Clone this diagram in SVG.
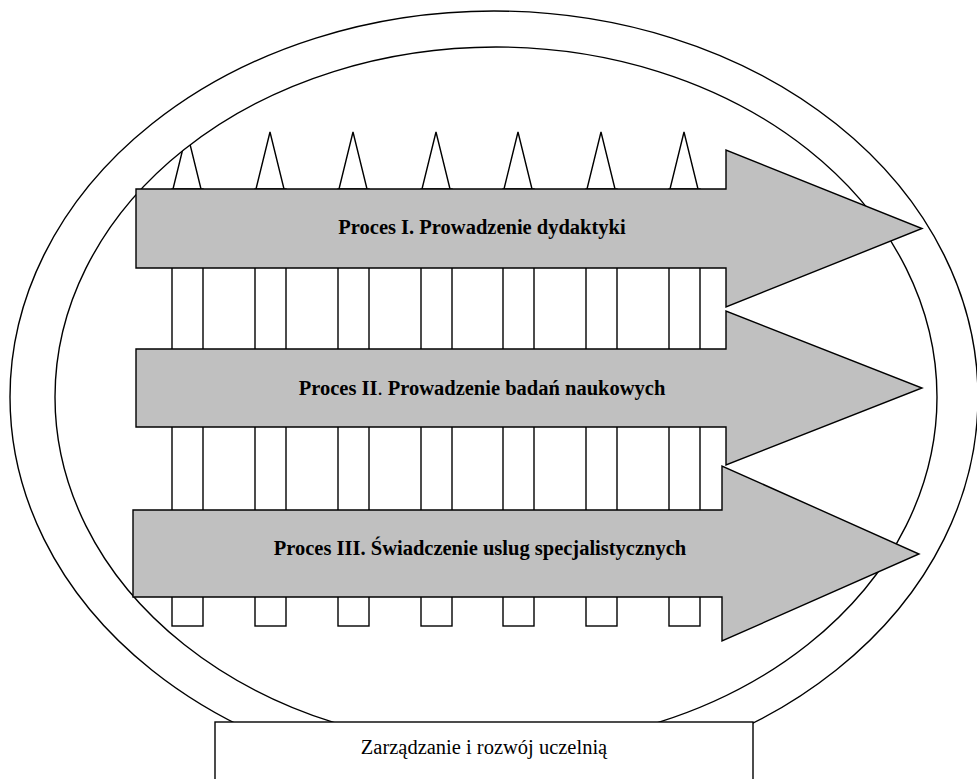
<svg xmlns="http://www.w3.org/2000/svg" width="977" height="779" viewBox="0 0 977 779">
<style>
.ln{fill:none;stroke:#000;stroke-width:1.4}
.arr{fill:#c0c0c0;stroke:#000;stroke-width:1.4;stroke-linejoin:miter}
.lbl{font-family:"Liberation Serif","Times New Roman",serif;font-size:20.5px;font-weight:bold;fill:#000;text-anchor:middle}
.box{fill:#fff;stroke:#000;stroke-width:1.4}
.btxt{font-family:"Liberation Serif","Times New Roman",serif;font-size:20.5px;fill:#000;text-anchor:middle}
</style>
<defs>
<clipPath id="inner"><ellipse cx="496" cy="397" rx="441" ry="350"/></clipPath>
<g id="tooth"><polyline class="ln" points="1,189 15,132 29,189"/><rect class="ln" x="0" y="189" width="31" height="437"/></g>
</defs>
<rect width="977" height="779" fill="#fff"/>
<g id="ring">
<ellipse class="ln" cx="494" cy="397" rx="484" ry="386"/>
<ellipse class="ln" cx="496" cy="397" rx="441" ry="350"/>
</g>
<g id="teeth" clip-path="url(#inner)">
<use href="#tooth" x="172"/>
<use href="#tooth" x="255"/>
<use href="#tooth" x="338"/>
<use href="#tooth" x="421"/>
<use href="#tooth" x="503"/>
<use href="#tooth" x="586"/>
<use href="#tooth" x="669"/>
</g>
<g id="proces1">
<polygon class="arr" points="136,189 726,189 726,150 922,228.5 726,307 726,268 136,268"/>
<text class="lbl" x="482" y="234">Proces I. Prowadzenie dydaktyki</text>
</g>
<g id="proces2">
<polygon class="arr" points="136,349 726,349 726,311 922,388 726,465 726,427 136,427"/>
<text class="lbl" x="482" y="395">Proces II<tspan font-weight="normal">.</tspan> Prowadzenie badań naukowych</text>
</g>
<g id="proces3">
<polygon class="arr" points="133,510 722,510 722,466 919,554 722,641 722,597 133,597"/>
<text class="lbl" x="480" y="555">Proces III. Świadczenie uslug specjalistycznych</text>
</g>
<g id="zarzadzanie">
<rect class="box" x="215" y="722" width="538" height="70"/>
<text class="btxt" x="484" y="754">Zarządzanie i rozwój uczelnią</text>
</g>
</svg>
